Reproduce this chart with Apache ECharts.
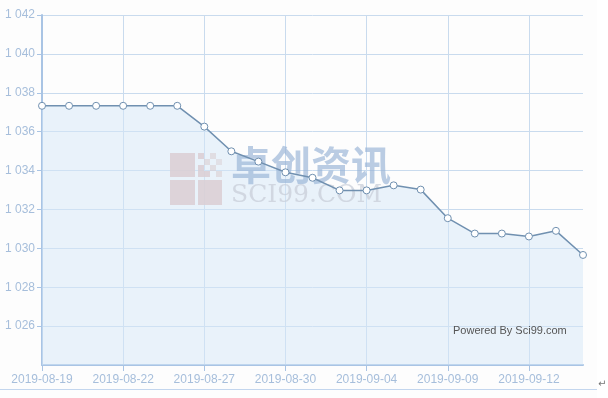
<!DOCTYPE html>
<html><head><meta charset="utf-8">
<script src="https://cdn.jsdelivr.net/npm/echarts@6/dist/echarts.min.js"></script>
<style>html,body{margin:0;padding:0;background:#fff}#c{width:608px;height:398px}</style>
</head><body><div id="c"></div>
<script>
const categories = ['2019-08-19','2019-08-20','2019-08-21','2019-08-22','2019-08-23','2019-08-26','2019-08-27','2019-08-28','2019-08-29','2019-08-30','2019-09-02','2019-09-03','2019-09-04','2019-09-05','2019-09-06','2019-09-09','2019-09-10','2019-09-11','2019-09-12','2019-09-16','2019-09-17'];
const values = [1037.33,1037.33,1037.33,1037.33,1037.33,1037.33,1036.26,1034.99,1034.46,1033.91,1033.63,1032.98,1032.98,1033.24,1033.02,1031.55,1030.76,1030.76,1030.61,1030.90,1029.66];
const yMin = 1024, yMax = 1042, yStep = 2;

const chart = echarts.init(document.getElementById('c'), null, {renderer:'canvas'});
const axisCol = '#a9c4e4', gridCol = '#c9dbee', labelCol = '#a6bedb';
const logoFill = 'rgba(218,206,210,0.85)';
chart.setOption({
  backgroundColor: '#fdfdfd',
  animation: false,
  grid: {left: 42, right: 25, top: 15, bottom: 33},
  xAxis: {
    type: 'category', data: categories, boundaryGap: false,
    axisLine: {lineStyle: {color: axisCol, width: 2}},
    axisTick: {interval: 2, length: 6, lineStyle: {color: axisCol}},
    axisLabel: {interval: 2, color: labelCol, fontSize: 12, fontFamily: 'Liberation Sans, Arial', margin: 9},
    splitLine: {show: true, interval: 2, lineStyle: {color: gridCol}}
  },
  yAxis: {
    type: 'value', min: yMin, max: yMax, interval: yStep,
    axisLine: {show: true, lineStyle: {color: axisCol, width: 2}},
    axisTick: {show: true, length: 5, lineStyle: {color: axisCol}},
    axisLabel: {color: labelCol, fontSize: 12, fontFamily: 'Liberation Sans, Arial', margin: 7, showMinLabel: false,
      formatter: v => String(v).replace(/\B(?=(\d{3})+(?!\d))/g, ' ')},
    splitLine: {lineStyle: {color: gridCol}}
  },
  series: [{
    type: 'line', data: values, symbol: 'none',
    lineStyle: {width: 0},
    areaStyle: {color: 'rgba(214,231,248,0.72)'},
    z: 1
  }, {
    type: 'line', data: values, symbol: 'circle', symbolSize: 7,
    itemStyle: {color: '#ffffff', borderColor: '#7090b0', borderWidth: 1},
    lineStyle: {color: '#7090b0', width: 1.5},
    z: 5
  }],
  graphic: [
    {type: 'group', left: 170, top: 153, z: 3, children: [
      {type: 'rect', z: 3, shape: {x: 0, y: 0, width: 25, height: 24}, style: {fill: logoFill}},
      {type: 'rect', z: 3, shape: {x: 0, y: 27, width: 25, height: 25}, style: {fill: logoFill}},
      {type: 'rect', z: 3, shape: {x: 28, y: 27, width: 24, height: 25}, style: {fill: logoFill}},
      {type: 'rect', z: 3, shape: {x: 28, y: 0, width: 6, height: 6}, style: {fill: logoFill}},
      {type: 'rect', z: 3, shape: {x: 40, y: 0, width: 6, height: 6}, style: {fill: 'rgba(218,206,210,0.6)'}},
      {type: 'rect', z: 3, shape: {x: 34, y: 6, width: 6, height: 6}, style: {fill: 'rgba(218,206,210,0.6)'}},
      {type: 'rect', z: 3, shape: {x: 46, y: 6, width: 6, height: 6}, style: {fill: 'rgba(218,206,210,0.5)'}},
      {type: 'rect', z: 3, shape: {x: 28, y: 12, width: 6, height: 6}, style: {fill: logoFill}},
      {type: 'rect', z: 3, shape: {x: 40, y: 12, width: 6, height: 6}, style: {fill: 'rgba(218,206,210,0.6)'}},
      {type: 'rect', z: 3, shape: {x: 28, y: 18, width: 12, height: 6}, style: {fill: logoFill}},
      {type: 'rect', z: 3, shape: {x: 46, y: 18, width: 6, height: 6}, style: {fill: 'rgba(218,206,210,0.6)'}}
    ]},
    {type: 'text', left: 231, top: 145, z: 3, style: {text: '卓创资讯', fill: 'rgba(150,178,214,0.65)', font: 'bold 40px "Noto Sans CJK SC"'}},
    {type: 'text', left: 231, top: 183, z: 3, style: {text: 'SCI99.COM', fill: 'rgba(200,206,216,0.75)', font: '25px "DejaVu Serif", serif'}},
    {type: 'text', left: 453, top: 325, z: 6, style: {text: 'Powered By Sci99.com', fill: '#555', font: '11px "Liberation Sans", Arial'}},
    {type: 'rect', left: 0, top: 389, z: 6, shape: {width: 597, height: 1}, style: {fill: '#c3d6ee'}},
    {type: 'rect', left: 597, top: 0, z: 6, shape: {width: 11, height: 398}, style: {fill: '#ffffff'}},
    {type: 'text', left: 598, top: 379, z: 7, style: {text: '↵', fill: '#777', font: '10px "DejaVu Sans"'}}
  ]
});
</script></body></html>
